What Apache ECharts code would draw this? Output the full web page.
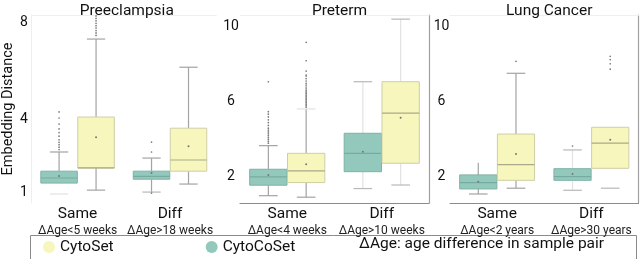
<!DOCTYPE html>
<html><head><meta charset="utf-8">
<script src="https://cdn.jsdelivr.net/npm/echarts@6/dist/echarts.min.js"></script>
<style>html,body{margin:0;padding:0;background:#fff}#c{width:640px;height:259px}</style>
</head><body><div id="c"></div>
<script>
// ---------- data ----------
const categories = ['Same', 'Diff'];
const panelTitles = ['Preeclampsia', 'Preterm', 'Lung Cancer'];
const subLabels = [
  ['ΔAge<5 weeks', 'ΔAge>18 weeks'],
  ['ΔAge<4 weeks', 'ΔAge>10 weeks'],
  ['ΔAge<2 years', 'ΔAge>30 years']
];
const yTickLabels = [[1, 4, 8], [2, 6, 10], [2, 6, 10]];
// each row: [min, q1, median, q3, max, mean] for Same, Diff
const preCytoCoSet = [[0.92, 1.37, 1.58, 1.86, 2.65, 1.66], [1.0, 1.53, 1.65, 1.86, 2.4, 1.78]];
const preCytoSet   = [[1.08, 1.99, 2.0, 4.09, 7.3, 3.26], [1.33, 1.86, 2.32, 3.63, 6.14, 2.89]];
const ptCytoCoSet  = [[1.0, 1.56, 2.0, 2.41, 3.67, 2.11], [1.38, 2.28, 3.26, 4.33, 7.08, 3.35]];
const ptCytoSet    = [[0.92, 1.70, 2.32, 3.26, 5.63, 2.68], [1.57, 2.73, 5.40, 7.08, 10.42, 5.16]];
const lcCytoCoSet  = [[1.09, 1.36, 1.70, 2.11, 2.76, 1.75], [1.29, 1.82, 2.02, 2.44, 3.44, 2.16]];
const lcCytoSet    = [[1.40, 1.82, 2.66, 4.29, 7.53, 3.23], [1.40, 2.46, 3.80, 4.65, 4.65, 3.99]];
// outliers: [Same list, Diff list]
const preCytoCoSetOut = [[2.75, 2.85, 2.95, 3.05, 3.15, 3.3, 3.45, 3.6, 3.8, 4.05, 4.3], [2.65, 3.06, 0.96]];
const preCytoSetOut   = [[7.45, 7.55, 7.65, 7.75, 7.85, 7.95, 8.05, 8.15, 8.25, 8.4, 8.8], []];
const ptCytoCoSetOut  = [[3.8, 3.9, 4.0, 4.1, 4.2, 4.3, 4.4, 4.5, 4.6, 4.75, 4.9, 5.05, 5.2, 5.35, 5.48, 7.08], []];
const ptCytoSetOut    = [[5.72, 5.8, 5.88, 5.96, 6.04, 6.12, 6.2, 6.28, 6.36, 6.44, 6.52, 6.6, 6.7, 6.8, 6.9, 7.0, 7.12, 7.25, 7.38, 7.44, 7.65, 8.2, 9.18], []];
const lcCytoCoSetOut  = [[], [3.65]];
const lcCytoSetOut    = [[8.17], [7.75, 8.04, 8.26, 8.44]];

// ---------- styles ----------
const YELLOW = '#f6f6bd', YELLOW_EDGE = '#cfcfa6', YELLOW_MED = '#aaa98a';
const TEAL = '#93c9bc', TEAL_EDGE = '#7fb2a6', TEAL_MED = '#78ab9f';
const FONT = 'Roboto';
const grids = [
  { left: 27.25, width: 189, top: 15, height: 188 },
  { left: 240, width: 189, top: 15, height: 188 },
  { left: 450, width: 188.5, top: 15, height: 188 }
];
const yRanges = [[0.55, 8.29], [0.61, 10.64], [0.61, 10.64]];
const labelMargins = [7.5, 9, 8.5];
// whisker tones [panel][side 0=teal,1=yellow][cat] -> [line, cap, lowerLine, lowerCap]
const W = '#a3a3a3', L = '#e2e2e2', C = '#b8b8b8';
const tones = [
  [[[W, W, 'none', L], [W, W, W, C]], [[W, W, W, W], [W, W, W, W]]],
  [[[W, W, W, W], [L, C, L, C]], [[W, L, W, W], [L, C, L, C]]],
  [[[W, 'none', W, W], [L, C, L, C]], [[W, W, W, W], ['none', 'none', 'none', C]]]
];

function boxRenderer(panel, side, fill, edge, med) {
  return function (params, api) {
    const cat = api.value(0);
    const bw = api.size([1, 0])[0];
    const w = bw * 0.395;
    const cx = api.coord([cat, 1])[0] + (side === 0 ? -1 : 1) * bw * 0.2;
    const y = v => api.coord([cat, v])[1];
    const yMin = y(api.value(1)), yQ1 = y(api.value(2)), yMed = y(api.value(3)),
          yQ3 = y(api.value(4)), yMax = y(api.value(5)), yMean = y(api.value(6));
    const t = tones[panel][side][cat];
    const cw = w * 0.5;
    const ch = [];
    const ln = (x1, y1, x2, y2, c) => { if (c !== 'none') ch.push({ type: 'line', shape: { x1, y1, x2, y2 }, style: { stroke: c, lineWidth: 1.2 } }); };
    ln(cx, yQ3, cx, yMax, t[0]);
    ln(cx - cw / 2, yMax, cx + cw / 2, yMax, t[1]);
    ln(cx, yQ1, cx, yMin, t[2]);
    ln(cx - cw / 2, yMin, cx + cw / 2, yMin, t[3]);
    ch.push({ type: 'rect', shape: { x: cx - w / 2, y: yQ3, width: w, height: yQ1 - yQ3 }, style: { fill, stroke: edge, lineWidth: 1 } });
    ch.push({ type: 'line', shape: { x1: cx - w / 2, y1: yMed, x2: cx + w / 2, y2: yMed }, style: { stroke: med, lineWidth: 1.2 } });
    ch.push({ type: 'circle', shape: { cx, cy: yMean, r: 1 }, style: { fill: '#777' } });
    return { type: 'group', children: ch };
  };
}
function outRenderer(side) {
  return function (params, api) {
    const cat = api.value(0);
    const bw = api.size([1, 0])[0];
    const cx = api.coord([cat, 1])[0] + (side === 0 ? -1 : 1) * bw * 0.2;
    const cy = api.coord([cat, api.value(1)])[1];
    return { type: 'circle', shape: { cx, cy, r: 0.85 }, style: { fill: '#7a7a7a' } };
  };
}
const toBox = rows => rows.map((r, i) => [i].concat(r));
const toOut = lists => { const o = []; lists.forEach((l, i) => l.forEach(v => o.push([i, v]))); return o; };

const panelData = [
  [preCytoCoSet, preCytoSet, preCytoCoSetOut, preCytoSetOut],
  [ptCytoCoSet, ptCytoSet, ptCytoCoSetOut, ptCytoSetOut],
  [lcCytoCoSet, lcCytoSet, lcCytoCoSetOut, lcCytoSetOut]
];

const xAxis = [], yAxis = [], series = [], title = [];
grids.forEach((g, p) => {
  title.push({ text: panelTitles[p], left: g.left + g.width / 2, top: -2, textAlign: 'center',
    textStyle: { fontFamily: FONT, fontSize: 15.5, fontWeight: 'normal', color: '#111' } });
  xAxis.push({ type: 'category', gridIndex: p, data: categories, position: 'bottom',
    axisLine: { show: p > 0, lineStyle: { color: '#8c8c8c', width: 1.2 } }, axisTick: { show: false },
    axisLabel: { margin: 3, interval: 0, color: '#111', fontFamily: FONT,
      formatter: (v, i) => '{a|' + v + '}\n{b|' + subLabels[p][i] + '}',
      rich: { a: { fontSize: 15.5, lineHeight: 16, fontFamily: FONT, color: '#111' },
              b: { fontSize: 12, lineHeight: 17, fontFamily: FONT, color: '#222' } } } });
  xAxis.push({ type: 'category', gridIndex: p, data: categories, position: 'top',
    axisLine: { show: true, lineStyle: { color: '#efefef' } }, axisTick: { show: false }, axisLabel: { show: false } });
  yAxis.push({ type: 'value', gridIndex: p, min: yRanges[p][0], max: yRanges[p][1],
    name: p === 0 ? 'Embedding Distance' : '', nameLocation: 'middle', nameGap: 13, nameRotate: 90,
    nameTextStyle: { fontFamily: FONT, fontSize: 14.5, color: '#111' },
    splitLine: { show: false }, axisTick: { show: false },
    axisLine: { show: p === 0, lineStyle: { color: '#eeeeee' } },
    axisLabel: { customValues: yTickLabels[p], margin: labelMargins[p], align: 'center',
      fontFamily: FONT, fontSize: 14, color: '#111' } });
  yAxis.push({ type: 'value', gridIndex: p, min: yRanges[p][0], max: yRanges[p][1], position: 'right',
    splitLine: { show: false }, axisTick: { show: false }, axisLabel: { show: false },
    axisLine: { show: p > 0, lineStyle: { color: '#a0a0a0', width: 1.2 } } });
  const [co, cs, coOut, csOut] = panelData[p];
  const xi = p * 2, yi = p * 2;
  series.push({ type: 'custom', name: 'CytoCoSet', xAxisIndex: xi, yAxisIndex: yi, renderItem: boxRenderer(p, 0, TEAL, TEAL_EDGE, TEAL_MED),
    encode: { x: 0, y: [1, 2, 3, 4, 5] }, data: toBox(co), itemStyle: { color: TEAL } });
  series.push({ type: 'custom', name: 'CytoSet', xAxisIndex: xi, yAxisIndex: yi, renderItem: boxRenderer(p, 1, YELLOW, YELLOW_EDGE, YELLOW_MED),
    encode: { x: 0, y: [1, 2, 3, 4, 5] }, data: toBox(cs), itemStyle: { color: YELLOW } });
  series.push({ type: 'custom', name: 'outCo', xAxisIndex: xi, yAxisIndex: yi, clip: true, renderItem: outRenderer(0),
    encode: { x: 0, y: 1 }, data: toOut(coOut) });
  series.push({ type: 'custom', name: 'outCs', xAxisIndex: xi, yAxisIndex: yi, clip: true, renderItem: outRenderer(1),
    encode: { x: 0, y: 1 }, data: toOut(csOut) });
});

const chart = echarts.init(document.getElementById('c'), null, { renderer: 'canvas' });
chart.setOption({
  animation: false,
  textStyle: { fontFamily: FONT },
  title,
  grid: grids,
  xAxis, yAxis, series,
  legend: {
    data: [{ name: 'CytoSet', itemStyle: { color: YELLOW } }, { name: 'CytoCoSet', itemStyle: { color: TEAL } }],
    icon: 'circle', itemWidth: 12, itemHeight: 12, itemGap: 92, left: 43, top: 239, padding: 0,
    selectedMode: false,
    textStyle: { fontFamily: FONT, fontSize: 15.5, color: '#111' }
  },
  graphic: [
    { type: 'rect', left: 28, top: 233, shape: { width: 606, height: 24 }, style: { fill: 'none', stroke: '#8a8a8a', lineWidth: 1 } },
    { type: 'text', left: 359, top: 236.5, style: { text: 'ΔAge: age difference in sample pair', font: '15.5px Roboto', fill: '#111' } }
  ]
});
</script></body></html>
